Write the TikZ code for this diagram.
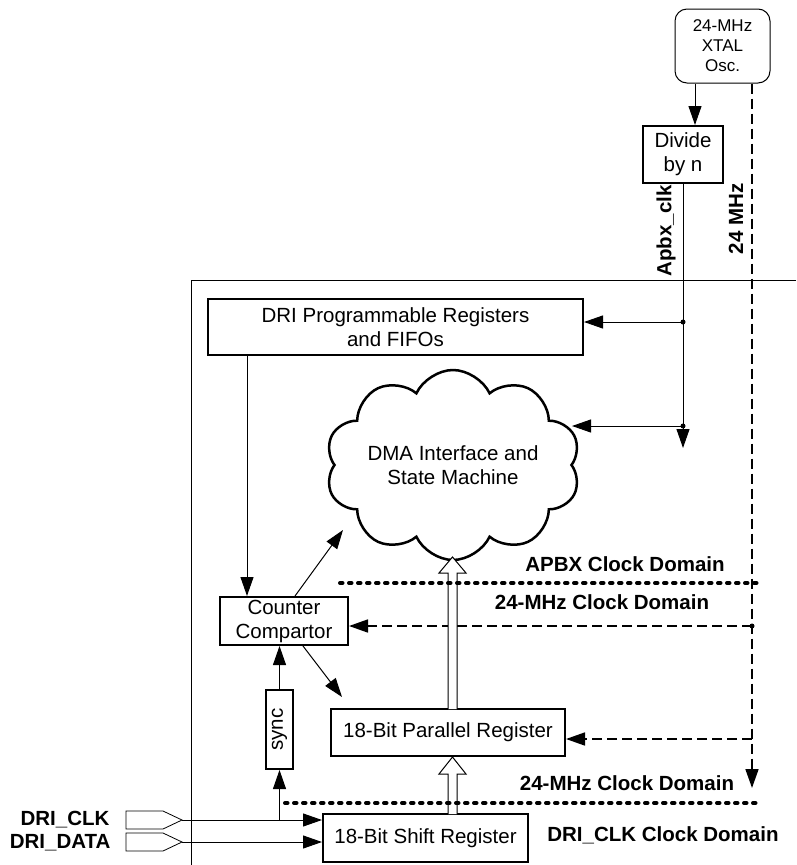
\documentclass[tikz,border=0pt]{standalone}
\usepackage{fontspec}
\setmainfont{Liberation Sans}
\usetikzlibrary{arrows.meta,shapes.symbols}
\begin{document}
\begin{tikzpicture}[x=1pt,y=-1pt,
 box/.style={draw,line width=2pt,align=center,inner sep=0pt,font=\fontsize{20.5}{24}\selectfont},
 tip/.style={-{Triangle[length=19pt,width=13pt]}},
 arr/.style={line width=1pt,tip},
 dsh/.style={line width=1.7pt,dash pattern=on 10pt off 5pt,tip},
 dom/.style={line width=4pt,line cap=round,dash pattern=on 2.5pt off 6.5pt},
 lbl/.style={font=\fontsize{20.5}{24}\selectfont\bfseries},
 hollow/.style={draw,line width=1pt,fill=white},
 jdot/.style={circle,fill,inner sep=0pt,minimum size=5pt},
 inp/.style={line width=0.8pt}]
\useasboundingbox (0,0) rectangle (796,865);

% frame
\draw[line width=1pt] (796,280) -- (191,280) -- (191,865);

% nodes
\node[box,minimum width=95,minimum height=74,rounded corners=12pt,line width=1pt,font=\fontsize{17}{20}\selectfont] (osc) at (722.5,46) {24-MHz\\XTAL\\Osc.};
\node[box,minimum width=80,minimum height=57] (div) at (683,154.5) {Divide\\by n};
\node[box,minimum width=375,minimum height=56] (prog) at (395.5,327) {DRI Programmable Registers\\and FIFOs};
\node[box,shape=cloud,cloud puffs=10,cloud puff arc=130,cloud ignores aspect,line width=2.5pt,minimum width=255,minimum height=190] (dma) at (453,465) {DMA Interface and\\State Machine};
\node[box,minimum width=128,minimum height=48] (cnt) at (284,621) {Counter\\Compartor};
\node[box,minimum width=27,minimum height=79] (sync) at (279.5,729.5) {};
\node[rotate=90,font=\fontsize{20.5}{24}\selectfont] (synct) at (sync) {sync};
\node[box,minimum width=234,minimum height=47] (par) at (448,732.5) {18-Bit Parallel Register};
\node[box,minimum width=205,minimum height=48] (shf) at (425.5,838) {18-Bit Shift Register};

% clock lines
\draw[arr] (695,0 |- osc.south) -- (695,0 |- div.north);
\coordinate (apEnd) at (683,448);
\draw[arr] (div.south) -- (apEnd);
\coordinate (tapP) at (683,322);
\coordinate (tapD) at (683,426);
\coordinate (dmaR) at (572,426);
\draw[arr] (tapP) -- (tapP -| prog.east);
\draw[arr] (tapD) -- (dmaR);
\node[jdot] at (tapP) {};
\node[jdot] at (tapD) {};

\coordinate (m24) at (752,788);
\draw[dsh] (m24 |- osc.south) -- (m24);
\coordinate (t1) at (752,626);
\coordinate (t2) at (752,739);
\draw[dsh] (t1) -- (t1 -| cnt.east);
\draw[dsh] (t2) -- (t2 -| par.east);
\node[jdot] at (t1) {};

% internal arrows
\draw[arr] (247,0 |- prog.south) -- (247,0 |- cnt.north);
\coordinate (dmaL) at (343,530);
\draw[arr] (295,0 |- cnt.north) -- (dmaL);
\coordinate (parTL) at (342,697);
\draw[arr] (303,0 |- cnt.south) -- (parTL);
\draw[arr] (sync.north) -- (sync.north |- cnt.south);

% inputs
\coordinate (clk) at (182,820);
\coordinate (dat) at (182,842);
\draw[inp] (126,811) -- (163,811) -- (clk) -- (163,829) -- (126,829) -- cycle;
\draw[inp] (126,833) -- (163,833) -- (dat) -- (163,851) -- (126,851) -- cycle;
\draw[arr] (clk) -- (clk -| shf.west);
\draw[arr] (dat) -- (dat -| shf.west);
\draw[arr] (clk -| sync.south) -- (sync.south);
\node[lbl,anchor=east] (clkl) at (113,820) {DRI\_CLK};
\node[lbl,anchor=east] (datl) at (114,843) {DRI\_DATA};

% hollow bus arrows
\draw[hollow] (448,709) -- (448,573) -- (439,573) -- (452.5,557) -- (466,573) -- (457,573) -- (457,709);
\draw[hollow] (448,814) -- (448,774) -- (439,774) -- (452.5,757) -- (466,774) -- (457,774) -- (457,814);

% domain boundaries
\draw[dom] (340,583) -- (762,583);
\draw[dom] (285,803) -- (760,803);

% labels
\node[lbl,rotate=90] (apl) at (666,231) {Apbx\_clk};
\node[lbl,rotate=90] (mhl) at (736,219) {24 MHz};
\node[lbl] (d1) at (625,564) {APBX Clock Domain};
\node[lbl] (d2) at (602,602) {24-MHz Clock Domain};
\node[lbl] (d3) at (627,783) {24-MHz Clock Domain};
\node[lbl] (d4) at (663,835) {DRI\_CLK Clock Domain};
\end{tikzpicture}
\end{document}
